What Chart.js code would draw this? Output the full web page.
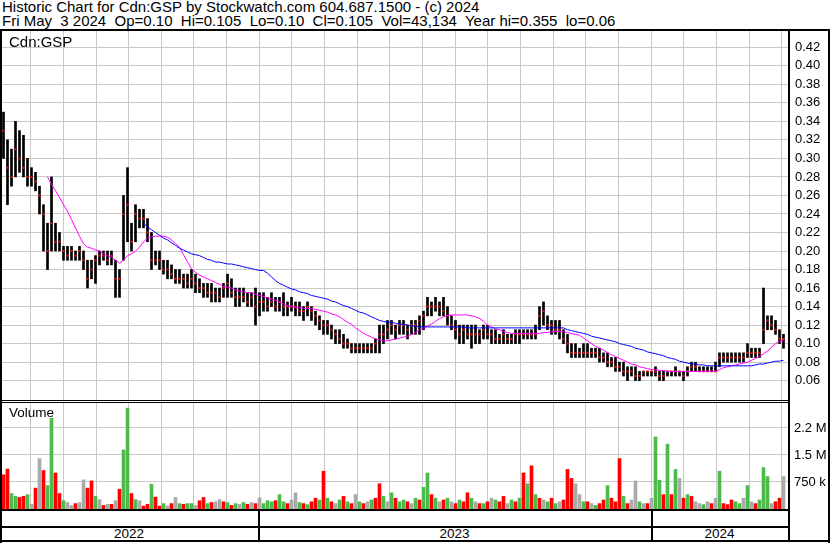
<!DOCTYPE html>
<html>
<head>
<meta charset="utf-8">
<script src="https://cdn.jsdelivr.net/npm/chart.js@4.4.1/dist/chart.umd.min.js"></script>
<style>
body { margin: 0; background: #fff; }
#wrap { position: relative; width: 830px; height: 543px; overflow: hidden; background: #fff;
  font-family: "Liberation Sans", Arial, sans-serif; color: #000; }
.txt { position: absolute; font-size: 13.5px; line-height: 14px; white-space: pre; }
.big { font-size: 15px; }
.ln { position: absolute; background: #000; }
canvas { position: absolute; left: 0; }
</style>
</head>
<body>
<div id="wrap">
  <div class="txt big" style="left:2px;top:0px">Historic Chart for Cdn:GSP by Stockwatch.com 604.687.1500 - (c) 2024
Fri May  3 2024  Op=0.10  Hi=0.105  Lo=0.10  Cl=0.105  Vol=43,134  Year hi=0.355  lo=0.06</div>

  <canvas id="price" width="830" height="369" style="top:31px"></canvas>
  <canvas id="volume" width="830" height="106" style="top:403px"></canvas>

  <div class="txt big" style="left:9px;top:35px">Cdn:GSP</div>
  <div class="txt" style="left:9px;top:406px">Volume</div>

  <div class="txt" id="y2022" style="top:527px"></div>
  <div class="txt" id="y2023" style="top:527px"></div>
  <div class="txt" id="y2024" style="top:527px"></div>

  <!-- frame -->
  <div class="ln" style="left:0;top:29px;width:830px;height:2px"></div>
  <div class="ln" style="left:0;top:29px;width:2px;height:514px"></div>
  <div class="ln" style="left:788px;top:29px;width:2px;height:512px"></div>
  <div class="ln" style="left:828px;top:29px;width:2px;height:514px"></div>
  <div class="ln" style="left:0;top:400px;width:788px;height:1px"></div>
  <div class="ln" style="left:0;top:402px;width:788px;height:1px"></div>
  <div class="ln" style="left:0;top:509px;width:788px;height:2px"></div>
  <div class="ln" style="left:0;top:526px;width:788px;height:2px"></div>
  <div class="ln" style="left:0;top:540px;width:830px;height:2px"></div>
  <div class="ln" style="left:258px;top:509px;width:2px;height:32px"></div>
  <div class="ln" style="left:651px;top:509px;width:2px;height:32px"></div>
</div>

<script>
"use strict";

// price samples, oldest first (May 2022 -> May 2024)
const hi = [
  0.35,0.32,0.31,0.34,0.33,0.325,0.30,0.29,0.285,0.27,
  0.25,0.23,0.28,0.23,0.22,0.205,0.205,0.205,0.20,0.205,
  0.20,0.19,0.19,0.195,0.20,0.20,0.20,0.20,0.19,0.18,
  0.26,0.29,0.23,0.25,0.245,0.245,0.235,0.22,0.20,0.20,
  0.19,0.19,0.185,0.18,0.18,0.175,0.175,0.18,0.175,0.17,
  0.165,0.165,0.165,0.16,0.16,0.165,0.175,0.17,0.16,0.16,
  0.16,0.155,0.155,0.16,0.155,0.155,0.15,0.155,0.15,0.15,
  0.155,0.145,0.15,0.145,0.145,0.14,0.145,0.14,0.135,0.13,
  0.125,0.125,0.12,0.115,0.115,0.11,0.105,0.10,0.10,0.10,
  0.10,0.10,0.10,0.105,0.12,0.12,0.125,0.125,0.12,0.125,
  0.125,0.12,0.125,0.125,0.13,0.135,0.15,0.145,0.15,0.145,
  0.15,0.14,0.13,0.125,0.12,0.12,0.12,0.12,0.12,0.115,
  0.12,0.12,0.115,0.115,0.11,0.115,0.11,0.11,0.115,0.115,
  0.115,0.115,0.115,0.12,0.14,0.145,0.13,0.125,0.125,0.125,
  0.115,0.11,0.10,0.10,0.095,0.10,0.10,0.095,0.095,0.095,
  0.09,0.09,0.085,0.085,0.08,0.08,0.075,0.075,0.075,0.07,
  0.07,0.07,0.07,0.075,0.07,0.07,0.07,0.07,0.075,0.07,
  0.07,0.075,0.08,0.08,0.075,0.075,0.075,0.075,0.08,0.09,
  0.09,0.09,0.09,0.09,0.09,0.09,0.10,0.095,0.095,0.095,
  0.16,0.13,0.13,0.125,0.115,0.11
];
const lo = [
  0.30,0.25,0.27,0.28,0.285,0.28,0.27,0.27,0.265,0.24,
  0.20,0.18,0.20,0.20,0.20,0.19,0.19,0.19,0.19,0.19,
  0.18,0.16,0.17,0.165,0.185,0.19,0.185,0.185,0.15,0.15,
  0.19,0.21,0.20,0.21,0.225,0.225,0.21,0.18,0.185,0.18,
  0.175,0.17,0.17,0.165,0.165,0.16,0.16,0.16,0.155,0.155,
  0.15,0.15,0.145,0.145,0.145,0.15,0.15,0.15,0.14,0.14,
  0.145,0.14,0.14,0.12,0.13,0.135,0.135,0.14,0.135,0.135,
  0.13,0.13,0.135,0.13,0.13,0.125,0.13,0.125,0.12,0.115,
  0.11,0.11,0.105,0.10,0.10,0.095,0.095,0.09,0.09,0.09,
  0.09,0.09,0.09,0.09,0.09,0.10,0.105,0.11,0.105,0.11,
  0.11,0.105,0.11,0.11,0.11,0.115,0.13,0.13,0.135,0.13,
  0.13,0.12,0.115,0.105,0.10,0.10,0.105,0.095,0.10,0.10,
  0.105,0.105,0.10,0.10,0.10,0.10,0.10,0.10,0.10,0.10,
  0.105,0.105,0.105,0.105,0.115,0.12,0.115,0.11,0.11,0.105,
  0.10,0.09,0.085,0.085,0.085,0.085,0.085,0.085,0.085,0.08,
  0.08,0.075,0.075,0.07,0.07,0.065,0.06,0.065,0.06,0.06,
  0.065,0.065,0.065,0.065,0.06,0.06,0.065,0.065,0.065,0.065,
  0.06,0.065,0.07,0.07,0.07,0.07,0.07,0.07,0.07,0.075,
  0.08,0.08,0.08,0.08,0.08,0.08,0.085,0.085,0.085,0.085,
  0.10,0.115,0.115,0.11,0.10,0.095
];
const cl = [
  0.33,0.29,0.28,0.31,0.30,0.29,0.28,0.28,0.275,0.26,
  0.24,0.20,0.23,0.21,0.21,0.20,0.195,0.20,0.195,0.20,
  0.19,0.17,0.18,0.19,0.195,0.195,0.19,0.195,0.17,0.17,
  0.24,0.25,0.21,0.24,0.235,0.235,0.22,0.19,0.19,0.19,
  0.18,0.18,0.175,0.17,0.17,0.17,0.165,0.17,0.165,0.16,
  0.16,0.155,0.155,0.155,0.15,0.16,0.165,0.155,0.15,0.15,
  0.15,0.145,0.15,0.14,0.145,0.145,0.14,0.145,0.14,0.145,
  0.14,0.14,0.14,0.14,0.135,0.135,0.14,0.135,0.13,0.125,
  0.12,0.12,0.115,0.11,0.105,0.10,0.10,0.095,0.095,0.095,
  0.095,0.095,0.095,0.10,0.11,0.11,0.115,0.12,0.115,0.12,
  0.12,0.115,0.12,0.12,0.125,0.13,0.14,0.14,0.14,0.14,
  0.135,0.13,0.12,0.115,0.11,0.115,0.11,0.11,0.11,0.11,
  0.115,0.11,0.11,0.105,0.105,0.11,0.105,0.105,0.11,0.11,
  0.11,0.11,0.11,0.11,0.13,0.135,0.12,0.12,0.115,0.115,
  0.105,0.10,0.09,0.09,0.09,0.09,0.09,0.09,0.09,0.085,
  0.085,0.08,0.08,0.075,0.075,0.07,0.07,0.07,0.065,0.065,
  0.07,0.07,0.07,0.07,0.065,0.065,0.07,0.07,0.07,0.07,
  0.065,0.07,0.075,0.075,0.07,0.07,0.07,0.07,0.07,0.085,
  0.085,0.085,0.085,0.085,0.085,0.085,0.09,0.09,0.09,0.09,
  0.115,0.125,0.12,0.115,0.105,0.105
];

// moving averages (magenta = short, blue = long)
const maShort = [
  null,null,null,null,null,null,null,null,null,null,
  null,0.280,0.272,0.265,0.258,0.250,0.243,0.234,0.225,0.216,
  0.208,0.204,0.203,0.201,0.200,0.197,0.195,0.193,0.190,0.187,
  0.190,0.195,0.197,0.200,0.204,0.210,0.214,0.215,0.216,0.216,
  0.216,0.215,0.212,0.208,0.204,0.196,0.188,0.181,0.177,0.174,
  0.172,0.170,0.168,0.166,0.164,0.162,0.161,0.160,0.158,0.157,
  0.156,0.155,0.155,0.153,0.152,0.151,0.149,0.148,0.147,0.145,
  0.143,0.141,0.140,0.139,0.139,0.138,0.138,0.138,0.137,0.136,
  0.135,0.134,0.132,0.131,0.129,0.126,0.123,0.121,0.117,0.114,
  0.111,0.109,0.107,0.105,0.104,0.103,0.103,0.104,0.105,0.106,
  0.107,0.108,0.110,0.112,0.115,0.117,0.119,0.121,0.124,0.127,
  0.129,0.130,0.131,0.131,0.131,0.131,0.131,0.130,0.129,0.127,
  0.124,0.120,0.118,0.116,0.115,0.113,0.112,0.111,0.111,0.111,
  0.111,0.111,0.111,0.111,0.111,0.112,0.112,0.113,0.113,0.113,
  0.113,0.112,0.111,0.110,0.109,0.106,0.103,0.100,0.097,0.095,
  0.093,0.090,0.088,0.086,0.084,0.082,0.080,0.078,0.077,0.075,
  0.074,0.073,0.072,0.072,0.071,0.071,0.070,0.070,0.070,0.070,
  0.070,0.070,0.070,0.070,0.070,0.070,0.070,0.070,0.070,0.072,
  0.074,0.075,0.076,0.077,0.078,0.079,0.080,0.082,0.084,0.086,
  0.089,0.092,0.096,0.100,0.102,0.104
];
const maLong = [
  null,null,null,null,null,null,null,null,null,null,
  null,null,null,null,null,null,null,null,null,null,
  null,null,null,null,null,null,null,null,null,null,
  null,null,null,null,null,0.230,0.226,0.223,0.220,0.217,
  0.214,0.212,0.209,0.206,0.203,0.201,0.199,0.197,0.196,0.195,
  0.193,0.191,0.190,0.188,0.188,0.187,0.186,0.186,0.185,0.184,
  0.183,0.182,0.181,0.180,0.179,0.179,0.176,0.172,0.168,0.165,
  0.163,0.161,0.159,0.158,0.156,0.155,0.154,0.152,0.151,0.150,
  0.149,0.148,0.146,0.145,0.143,0.141,0.140,0.138,0.136,0.134,
  0.133,0.131,0.129,0.127,0.125,0.124,0.123,0.123,0.122,0.121,
  0.121,0.120,0.119,0.119,0.118,0.118,0.118,0.118,0.118,0.118,
  0.118,0.118,0.118,0.118,0.118,0.118,0.117,0.117,0.117,0.117,
  0.117,0.117,0.117,0.117,0.117,0.117,0.117,0.117,0.117,0.117,
  0.117,0.117,0.117,0.117,0.117,0.117,0.117,0.117,0.117,0.117,
  0.117,0.115,0.114,0.113,0.112,0.111,0.110,0.108,0.107,0.106,
  0.105,0.104,0.103,0.102,0.100,0.099,0.098,0.097,0.095,0.094,
  0.093,0.091,0.090,0.089,0.088,0.087,0.085,0.084,0.083,0.081,
  0.080,0.079,0.078,0.078,0.077,0.077,0.076,0.076,0.076,0.076,
  0.076,0.076,0.076,0.076,0.076,0.076,0.076,0.076,0.077,0.078,
  0.078,0.079,0.080,0.081,0.081,0.082
];

// volume in thousands, with direction r = down, g = up, n = unchanged
const vol = [
  950,1110,430,350,320,350,400,130,580,1400,
  1070,650,2520,1000,430,230,180,100,150,180,
  810,580,780,350,260,100,130,130,230,550,
  1640,2800,430,260,230,80,130,690,330,80,
  150,85,150,320,150,130,150,150,100,230,
  320,150,180,200,260,200,180,100,150,130,
  180,130,180,150,310,150,230,200,230,400,
  200,150,250,450,180,150,120,200,300,250,
  1050,300,200,150,250,350,200,150,400,200,
  150,200,250,300,700,350,200,450,300,200,
  250,200,150,300,250,600,1000,400,300,200,
  250,300,200,150,250,200,450,300,200,150,
  150,200,300,250,200,350,150,250,200,300,
  1000,700,1200,400,300,250,200,300,150,200,
  250,1100,850,700,400,200,200,150,100,150,
  250,650,300,200,1400,350,150,250,780,200,
  150,150,300,2000,800,400,1800,400,1100,850,
  300,400,350,200,150,120,200,150,300,1050,
  150,120,250,200,150,300,650,200,150,250,
  1150,900,150,200,300,900
];
const volDir = (
  "rrggrrgnrn" + "rggrrgnnrn" + "nrrgnrnrnr" + "ggrgnrrgrr" + "gnrngrggnr" +
  "rgrnnrgrgn" + "grnrngggrg" + "grnngrgrrg" + "rgrngrgrng" + "rngrrgngrg" +
  "grngrggrgn" + "rgnrgrrgnr" + "grngrrngrg" + "rgrgrngrgn" + "rrrnngrngr" +
  "rgrrrgrnng" + "nrnggrgrgn" + "rgrnngnrng" + "rrrggngnrg" + "ggnrrn"
).split("");

// axis labels
const priceTicks = [0.06,0.08,0.10,0.12,0.14,0.16,0.18,0.20,0.22,0.24,0.26,0.28,0.30,0.32,0.34,0.36,0.38,0.40,0.42];
const volTicks = [750000, 1500000, 2250000];
const volTickLabels = ["750 k", "1.5 M", "2.2 M"];
const years = ["2022", "2023", "2024"];

// month boundaries in sample units (first is June 2022)
const monthLines = [];
for (let k = 0; k < 24; k++) monthLines.push(6.8 + 8.1625 * k);

const xMin = -0.375, xMax = 196.125;
const gridColor = "#c8c8c8";
const tickFont = { family: "'Liberation Sans', Arial, sans-serif", size: 13 };

function noPad(s) {
  s.paddingTop = 0; s.paddingBottom = 0; s.paddingLeft = 0; s.paddingRight = 0;
}

function xScale() {
  return {
    type: "linear",
    min: xMin,
    max: xMax,
    offset: false,
    ticks: { display: false },
    grid: { color: gridColor, drawTicks: false, lineWidth: 1, offset: false },
    border: { display: false },
    afterBuildTicks: function (s) { s.ticks = monthLines.map(v => ({ value: v })); },
    afterFit: function (s) { s.height = 0; noPad(s); }
  };
}

const barData = hi.map((h, i) => ({ x: i, y: [lo[i], h] }));
const closeData = cl.map((c, i) => ({ x: i, y: c }));
const shortData = maShort.map((v, i) => ({ x: i, y: v })).filter(p => p.y !== null);
const longData = maLong.map((v, i) => ({ x: i, y: v })).filter(p => p.y !== null);

new Chart(document.getElementById("price"), {
  type: "bar",
  data: {
    datasets: [
      { type: "line", data: shortData, borderColor: "#ff00ff", borderWidth: 1, pointRadius: 0, tension: 0, order: 1 },
      { type: "line", data: longData, borderColor: "#0000ff", borderWidth: 1, pointRadius: 0, tension: 0, order: 0 },
      { type: "line", data: closeData, showLine: false, pointStyle: "rect", pointRadius: 1.4,
        pointBackgroundColor: "#ff0000", pointBorderWidth: 0, order: 2 },
      { data: barData, backgroundColor: "#000", barThickness: 2, order: 3 }
    ]
  },
  options: {
    responsive: false,
    animation: false,
    devicePixelRatio: 1,
    layout: { autoPadding: false, padding: { left: 2, right: 0, top: 0, bottom: 0 } },
    plugins: { legend: { display: false }, tooltip: { enabled: false } },
    scales: {
      x: xScale(),
      y: {
        position: "right",
        min: 0.0391,
        max: 0.4376,
        grid: { color: gridColor, drawTicks: false },
        border: { display: false },
        ticks: { color: "#000", font: tickFont, padding: 7, callback: v => v.toFixed(2) },
        afterBuildTicks: function (s) { s.ticks = priceTicks.map(v => ({ value: v })); },
        afterFit: function (s) { s.width = 42; noPad(s); }
      }
    }
  }
});

const volColors = { r: "#ff0000", g: "#4cbb4c", n: "#aaaaaa" };

new Chart(document.getElementById("volume"), {
  type: "bar",
  data: {
    datasets: [{
      data: vol.map((v, i) => ({ x: i, y: v * 1000 })),
      backgroundColor: volDir.map(d => volColors[d]),
      barThickness: 3
    }]
  },
  options: {
    responsive: false,
    animation: false,
    devicePixelRatio: 1,
    layout: { autoPadding: false, padding: { left: 2, right: 0, top: 0, bottom: 0 } },
    plugins: { legend: { display: false }, tooltip: { enabled: false } },
    scales: {
      x: xScale(),
      y: {
        position: "right",
        min: 0,
        max: 2944000,
        grid: { color: gridColor, drawTicks: false },
        border: { display: false },
        ticks: { color: "#000", font: tickFont, padding: 6, callback: (v, i) => volTickLabels[i] },
        afterBuildTicks: function (s) { s.ticks = volTicks.map(v => ({ value: v })); },
        afterFit: function (s) { s.width = 42; noPad(s); }
      }
    }
  }
});

// year labels centred in their segments of the bottom row
const yearSpans = [[0, 258], [258, 651], [651, 788]];
years.forEach(function (y, i) {
  const el = document.getElementById("y" + y);
  el.textContent = y;
  el.style.left = yearSpans[i][0] + "px";
  el.style.width = (yearSpans[i][1] - yearSpans[i][0]) + "px";
  el.style.textAlign = "center";
});
</script>
</body>
</html>
